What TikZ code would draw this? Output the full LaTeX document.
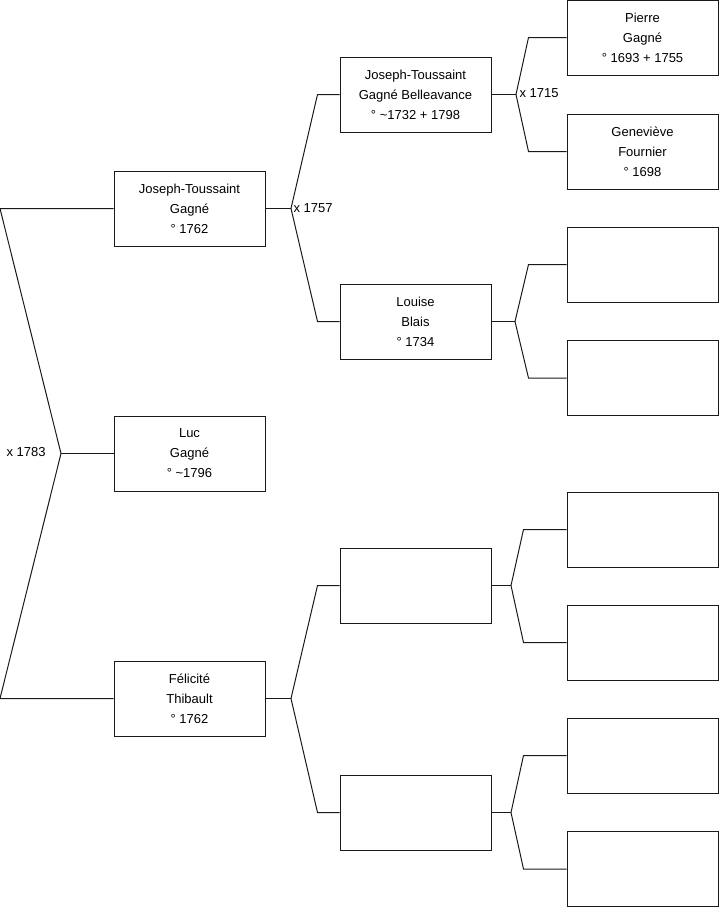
\documentclass[tikz,border=0pt]{standalone}
\usepackage{fontspec}
\setmainfont{Liberation Sans}
\usetikzlibrary{positioning}
\definecolor{cline}{HTML}{1A1A1A}
\tikzset{
  every picture/.style={line width=1pt},
  person/.style={draw=cline, minimum width=151pt, minimum height=75pt, align=center, inner sep=0pt, font=\fontsize{13}{20}\selectfont},
  link/.style={draw=cline, line width=1pt},
  union/.style={anchor=west, inner sep=0pt, font=\fontsize{13}{14}\selectfont},
}

\begin{document}
\begin{tikzpicture}[x=1pt, y=-1pt]
  \useasboundingbox (0,0) rectangle (719,908);
  % children and parents
  \node[person] (jtg) at (189.5,208.5) {Joseph-Toussaint\\Gagné\\° 1762};
  \node[person] (luc) at (189.5,453.5) {Luc\\Gagné\\° \textasciitilde1796};
  \node[person] (fel) at (189.5,698.5) {Félicité\\Thibault\\° 1762};
  % grandparents
  \node[person] (jtgb) at (415.5,94.5) {Joseph-Toussaint\\Gagné Belleavance\\° \textasciitilde1732 + 1798};
  \node[person] (lou) at (415.5,321.5) {Louise\\Blais\\° 1734};
  \node[person] (gpc) at (415.5,585.5) {};
  \node[person] (gpd) at (415.5,812.5) {};
  % great-grandparents
  \node[person] (pie) at (642.5,37.5) {Pierre\\Gagné\\° 1693 + 1755};
  \node[person] (gen) at (642.5,151.5) {Geneviève\\Fournier\\° 1698};
  \foreach \n/\y in {ggc/264.5, ggd/378, gge/529.5, ggf/642.5, ggg/755.5, ggh/869} {
    \node[person] (\n) at (642.5,\y) {};
  }
  % marriage forks
  \coordinate (j0) at (61,453.5);
  \coordinate (c0a) at (0,208.5);
  \coordinate (c0b) at (0,698.5);
  \draw[link] (jtg.west) -- (c0a) -- (j0) -- (c0b) -- (fel.west);
  \draw[link] (j0) -- (luc.west);
  \node[union] (m0) at (6,452) {x 1783};

  \coordinate (j1a) at (291,208.5);
  \draw[link] (jtg.east) -- (j1a);
  \draw[link] (jtgb.west) -- ++(-22,0) -- (j1a);
  \draw[link] (lou.west) -- ++(-22,0) -- (j1a);
  \node[union] (m1) at (293,208) {x 1757};

  \coordinate (j1b) at (291,698.5);
  \draw[link] (fel.east) -- (j1b);
  \draw[link] (gpc.west) -- ++(-22,0) -- (j1b);
  \draw[link] (gpd.west) -- ++(-22,0) -- (j1b);

  \coordinate (j2a) at (516,94.5);
  \draw[link] (jtgb.east) -- (j2a);
  \draw[link] (pie.west) -- ++(-38,0) -- (j2a);
  \draw[link] (gen.west) -- ++(-38,0) -- (j2a);
  \node[union] (m2) at (519,93) {x 1715};

  \coordinate (j2b) at (515,321.5);
  \draw[link] (lou.east) -- (j2b);
  \draw[link] (ggc.west) -- ++(-38,0) -- (j2b);
  \draw[link] (ggd.west) -- ++(-38,0) -- (j2b);

  \coordinate (j2c) at (511,585.5);
  \draw[link] (gpc.east) -- (j2c);
  \draw[link] (gge.west) -- ++(-43,0) -- (j2c);
  \draw[link] (ggf.west) -- ++(-43,0) -- (j2c);

  \coordinate (j2d) at (511,812.5);
  \draw[link] (gpd.east) -- (j2d);
  \draw[link] (ggg.west) -- ++(-43,0) -- (j2d);
  \draw[link] (ggh.west) -- ++(-43,0) -- (j2d);
\end{tikzpicture}
\end{document}
